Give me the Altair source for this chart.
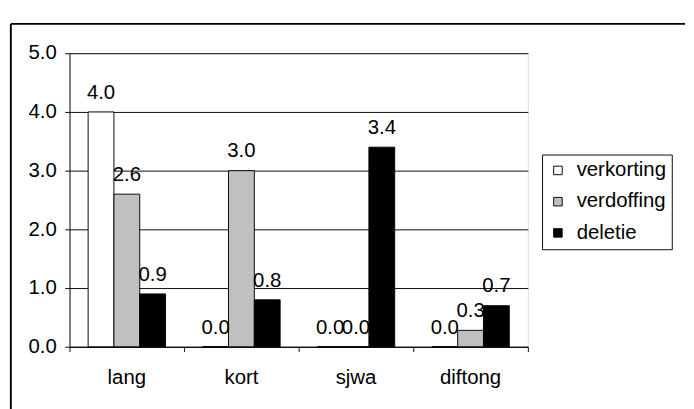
import altair as alt
import pandas as pd

categories = ["lang", "kort", "sjwa", "diftong"]
series = ["verkorting", "verdoffing", "deletie"]
verkorting = [4.0, 0.0, 0.0, 0.0]
verdoffing = [2.6, 3.0, 0.0, 0.28]
deletie = [0.9, 0.8, 3.4, 0.7]
y_ticks = [0, 1, 2, 3, 4, 5]
colors = ["white", "#C0C0C0", "black"]

rows = []
for s, vals in zip(series, [verkorting, verdoffing, deletie]):
    for c, v in zip(categories, vals):
        rows.append({"cat": c, "series": s, "value": v})
df = pd.DataFrame(rows)
tick_df = pd.DataFrame({"idx": list(range(len(categories) + 1))})
one = pd.DataFrame({"k": [0]})

FONT = "Liberation Sans"
FS = 21.5

x_enc = alt.X("cat:N", sort=categories,
              scale=alt.Scale(paddingInner=0, paddingOuter=0),
              axis=alt.Axis(title=None, labelAngle=0, ticks=False, tickSize=0,
                            domainColor="black", labelFontSize=FS, labelColor="black",
                            labelPadding=22, labelFont=FONT, orient="bottom"))
xo_enc = alt.XOffset("series:N", sort=series,
                     scale=alt.Scale(paddingOuter=0.72, paddingInner=0))
y_enc = alt.Y("value:Q", scale=alt.Scale(domain=[0, 5], nice=False),
              axis=alt.Axis(values=y_ticks, format=".1f", title=None, grid=True,
                            gridColor="black", gridOpacity=1, gridWidth=1,
                            domainColor="black", tickColor="black", tickSize=5,
                            labelFontSize=FS, labelPadding=9, labelColor="black",
                            labelFont=FONT))

bars = alt.Chart(df).mark_bar(stroke="black", strokeWidth=1).encode(
    x=x_enc, xOffset=xo_enc, y=y_enc,
    fill=alt.Fill("series:N", sort=series,
                  scale=alt.Scale(domain=series, range=colors),
                  legend=alt.Legend(title=None, orient="none", legendX=499, legendY=107,
                                    symbolType="square", symbolSize=81,
                                    symbolStrokeColor="black", symbolStrokeWidth=1,
                                    labelFontSize=FS, labelColor="black", labelFont=FONT,
                                    rowPadding=10, padding=6, strokeColor="black",
                                    fillColor="white", labelOffset=9)),
)
texts = alt.Chart(df).mark_text(dy=-14, baseline="alphabetic", align="center",
                                fontSize=FS, font=FONT, color="black").encode(
    x=x_enc, xOffset=xo_enc, y=y_enc,
    text=alt.Text("value:Q", format=".1f"),
)
inner = alt.layer(bars, texts)

ticks = alt.Chart(tick_df).mark_point(opacity=0).encode(
    x=alt.X("idx:Q", scale=alt.Scale(domain=[0, len(categories)], nice=False, zero=False),
            axis=alt.Axis(values=list(range(len(categories) + 1)), labels=False,
                          domain=False, ticks=True, tickSize=5, tickColor="black",
                          grid=False, title=None, orient="bottom")),
)

frame_left = alt.Chart(one).mark_rule(color="black", strokeWidth=2).encode(
    x=alt.value(-62), y=alt.value(-31), y2=alt.value(420))
frame_top = alt.Chart(one).mark_rule(color="black", strokeWidth=2).encode(
    x=alt.value(-62), x2=alt.value(650), y=alt.value(-31))

chart = alt.layer(frame_left, frame_top, inner, ticks).resolve_scale(
    x="independent"
).properties(
    width=484, height=310,
    padding={"left": 2, "top": 3, "right": 0, "bottom": 0},
).configure_view(stroke="black", strokeWidth=1).configure(font=FONT)

chart.save("out.html", embed_options={"renderer": "svg", "actions": False})
